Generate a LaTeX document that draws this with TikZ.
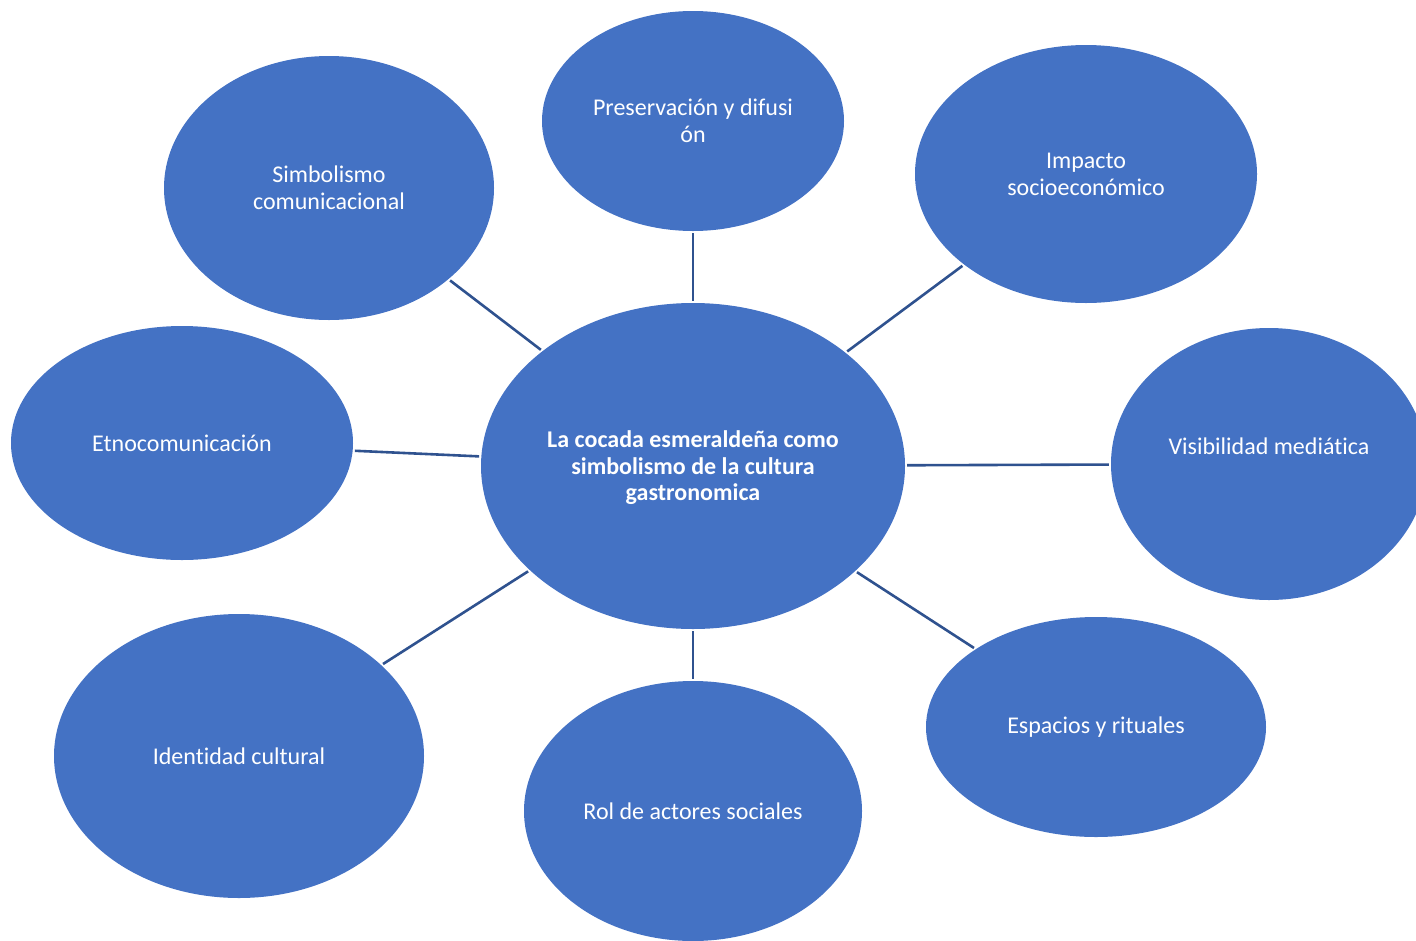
\documentclass[tikz,border=0pt]{standalone}
\usepackage{fontspec}
\setmainfont[Ligatures=NoCommon]{Carlito}
\usetikzlibrary{shapes.geometric}
\definecolor{bubble}{HTML}{4472C4}
\definecolor{linkc}{HTML}{2F528F}
\tikzset{
  bub/.style={ellipse, fill=bubble, draw=none, inner sep=0pt, text=white,
    align=center, font=\fontsize{24}{26.8}\selectfont},
  bubtext/.style={text=white, align=center, inner sep=0pt, font=\fontsize{24}{26.8}\selectfont},
  link/.style={draw=linkc, line width=2.6pt, shorten >=2pt, shorten <=2pt}
}
\begin{document}
\begin{tikzpicture}[x=1pt,y=-1pt]
\useasboundingbox (0,0) rectangle (1416,940);
\clip (0,0) rectangle (1416,940);
\node[bub, minimum width=424pt, minimum height=326pt] (c) at (693,466) {};
\node[bubtext, font=\fontsize{24}{26.6}\selectfont\bfseries] (ct) at ([yshift=-2pt]c.center) {La cocada esmeraldeña como\\simbolismo de la cultura\\gastronomica};
\node[bub, minimum width=302pt, minimum height=220pt] (pre) at (693,121) {Preservación y difusi\\ón};
\node[bub, minimum width=330pt, minimum height=264pt] (sim) at (329,188) {Simbolismo\\comunicacional};
\node[bub, minimum width=342pt, minimum height=258pt] (imp) at (1086,174) {Impacto\\socioeconómico};
\node[bub, minimum width=342pt, minimum height=234pt] (etn) at (182,443) {Etnocomunicación};
\node[bub, minimum width=316pt, minimum height=272pt] (vis) at (1269,464) {};
\node[bubtext] (vist) at ([yshift=18pt]vis.center) {Visibilidad mediática};
\node[bub, minimum width=370pt, minimum height=284pt] (ide) at (239,756) {Identidad cultural};
\node[bub, minimum width=338pt, minimum height=260pt] (rol) at (693,811) {Rol de actores sociales};
\node[bub, minimum width=340pt, minimum height=220pt] (esp) at (1096,727) {Espacios y rituales};
\foreach \n in {pre,sim,imp,etn,vis,ide,rol,esp}{
  \draw[link] (c) -- (\n);
}
\end{tikzpicture}
\end{document}
